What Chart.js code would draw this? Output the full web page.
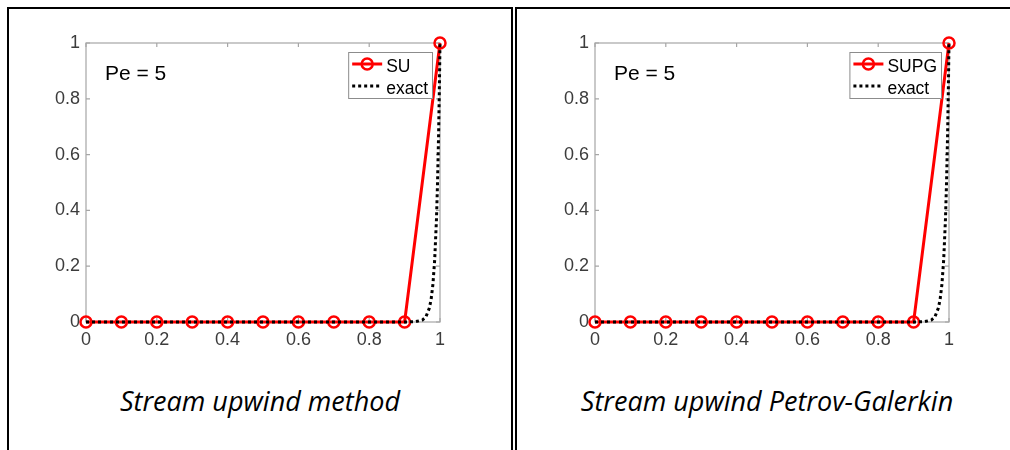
<!DOCTYPE html>
<html>
<head>
    <meta charset="utf-8" />
    <title>Stream upwind vs SUPG</title>
    <script src="https://cdn.jsdelivr.net/npm/chart.js"></script>
    <style>
        body { margin: 0; width: 1010px; height: 450px; overflow: hidden; background: #fff; position: relative; }
        .panel { position: absolute; top: 7px; height: 480px; border: 2px solid #000; box-sizing: border-box; }
        #p1 { left: 7px; width: 506px; }
        #p2 { left: 515px; width: 600px; }
        canvas { position: absolute; }
        .cap { position: absolute; top: 386px; line-height: 30px; font-family: "Open Sans", sans-serif; font-style: italic; font-size: 27px; color: #000; text-align: center; white-space: nowrap; }
    </style>
</head>
<body>
    <div class="panel" id="p1"></div>
    <div class="panel" id="p2"></div>
    <div style="position:absolute; left:20px; top:20px; width:460px; height:340px;"><canvas id="c1"></canvas></div>
    <div style="position:absolute; left:529px; top:20px; width:460px; height:340px;"><canvas id="c2"></canvas></div>
    <div class="cap" style="left:60px; width:400px;">Stream upwind method</div>
    <div class="cap" style="left:567px; width:400px;">Stream upwind Petrov-Galerkin</div>

    <script>
        // discrete solution (11 nodes, h = 0.1)
        const nodeX = [0, 0.1, 0.2, 0.3, 0.4, 0.5, 0.6, 0.7, 0.8, 0.9, 1];
        const suValues = [0, 0, 0, 0, 0, 0, 0, 0, 0, 0, 1];
        const supgValues = [0, 0, 0, 0, 0, 0, 0, 0, 0, 0, 1];

        // exact solution
        const exactX = [0, 0.9, 0.93, 0.95, 0.96, 0.97, 0.975, 0.98, 0.985, 0.99, 0.993, 0.996, 0.998, 1];
        const exactValues = [0, 0, 0.001, 0.007, 0.018, 0.05, 0.082, 0.135, 0.223, 0.368, 0.497, 0.67, 0.819, 1];

        const tickValues = [0, 0.2, 0.4, 0.6, 0.8, 1];
        const xTickLabels = ['0', '0.2', '0.4', '0.6', '0.8', '1'];
        const yTickLabels = ['0', '0.2', '0.4', '0.6', '0.8', '1'];

        const axisGrey = '#a6a6a6';
        const tickFont = { family: '"Liberation Sans", Arial, sans-serif', size: 18 };

        function pts(xs, ys) {
            return xs.map((x, i) => ({ x: x, y: ys[i] }));
        }

        // MATLAB-like box with inward ticks, "Pe = 5" label and legend inside the axes
        const matlabBox = {
            id: 'matlabBox',
            beforeDatasetsDraw(chart) {
                const { ctx, chartArea: a, scales } = chart;
                ctx.save();
                ctx.strokeStyle = axisGrey;
                ctx.lineWidth = 1.2;
                ctx.strokeRect(a.left, a.top, a.right - a.left, a.bottom - a.top);
                ctx.beginPath();
                tickValues.forEach(v => {
                    const px = scales.x.getPixelForValue(v);
                    ctx.moveTo(px, a.bottom); ctx.lineTo(px, a.bottom - 4);
                    ctx.moveTo(px, a.top); ctx.lineTo(px, a.top + 4);
                    const py = scales.y.getPixelForValue(v);
                    ctx.moveTo(a.left, py); ctx.lineTo(a.left + 4, py);
                    ctx.moveTo(a.right, py); ctx.lineTo(a.right - 4, py);
                });
                ctx.stroke();
                ctx.restore();
            },
            afterDraw(chart) {
                const { ctx, chartArea: a } = chart;
                ctx.save();
                ctx.fillStyle = '#000';
                ctx.font = '21px "Liberation Sans", Arial, sans-serif';
                ctx.textBaseline = 'alphabetic';
                ctx.fillText('Pe = 5', a.left + 19, a.top + 37);

                // legend
                ctx.font = '17.5px "Liberation Sans", Arial, sans-serif';
                const ds = chart.data.datasets;
                const w = Math.max(...ds.map(d => ctx.measureText(d.label).width));
                const bw = 38 + w + 4, bh = 46;
                const bx = a.right - 8 - bw, by = a.top + 9;
                ctx.fillStyle = '#fff';
                ctx.fillRect(bx, by, bw, bh);
                ctx.strokeStyle = '#8c8c8c';
                ctx.lineWidth = 1;
                ctx.strokeRect(bx + 0.5, by + 0.5, bw, bh);

                ds.forEach((d, i) => {
                    const ly = by + 12 + i * 22;
                    ctx.beginPath();
                    ctx.strokeStyle = d.borderColor;
                    ctx.lineWidth = d.borderWidth;
                    ctx.setLineDash(d.borderDash || []);
                    ctx.moveTo(bx + 4, ly);
                    ctx.lineTo(bx + 34, ly);
                    ctx.stroke();
                    ctx.setLineDash([]);
                    if (d.pointRadius > 0) {
                        ctx.beginPath();
                        ctx.lineWidth = d.pointBorderWidth;
                        ctx.arc(bx + 19, ly, d.pointRadius, 0, Math.PI * 2);
                        ctx.stroke();
                    }
                    ctx.fillStyle = '#000';
                    ctx.fillText(d.label, bx + 38, ly + 8);
                });
                ctx.restore();
            }
        };

        function makeChart(id, label, values) {
            const ctx = document.getElementById(id).getContext('2d');
            return new Chart(ctx, {
                type: 'scatter',
                data: {
                    datasets: [{
                        label: label,
                        data: pts(nodeX, values),
                        showLine: true,
                        borderColor: '#ff0000',
                        borderWidth: 3,
                        pointRadius: 5.5,
                        pointBorderWidth: 2.5,
                        pointBorderColor: '#ff0000',
                        pointBackgroundColor: 'rgba(0,0,0,0)',
                        pointHoverRadius: 5.5,
                        order: 1,
                        clip: false
                    }, {
                        label: 'exact',
                        data: pts(exactX, exactValues),
                        showLine: true,
                        borderColor: '#000000',
                        borderWidth: 3,
                        borderDash: [3, 3],
                        borderCapStyle: 'butt',
                        pointRadius: 0,
                        order: 0,
                        clip: false
                    }]
                },
                options: {
                    responsive: true,
                    maintainAspectRatio: false,
                    animation: false,
                    events: [],
                    layout: { padding: { top: 23, right: 40, left: 0, bottom: 0 } },
                    plugins: {
                        legend: { display: false },
                        tooltip: { enabled: false }
                    },
                    scales: {
                        x: {
                            type: 'linear', min: 0, max: 1,
                            grid: { display: false, drawTicks: false },
                            border: { display: false },
                            afterBuildTicks: s => { s.ticks = tickValues.map(v => ({ value: v })); },
                            afterFit: s => { s.height = 38; },
                            ticks: {
                                color: '#3c3c3c', font: tickFont, padding: 7, maxRotation: 0,
                                callback: (v, i) => xTickLabels[i]
                            }
                        },
                        y: {
                            type: 'linear', min: 0, max: 1,
                            grid: { display: false, drawTicks: false },
                            border: { display: false },
                            afterBuildTicks: s => { s.ticks = tickValues.map(v => ({ value: v })); },
                            afterFit: s => { s.width = 66; },
                            ticks: {
                                color: '#3c3c3c', font: tickFont, padding: 6,
                                callback: (v, i) => yTickLabels[i]
                            }
                        }
                    }
                },
                plugins: [matlabBox]
            });
        }

        makeChart('c1', 'SU', suValues);
        makeChart('c2', 'SUPG', supgValues);
    </script>
</body>
</html>
